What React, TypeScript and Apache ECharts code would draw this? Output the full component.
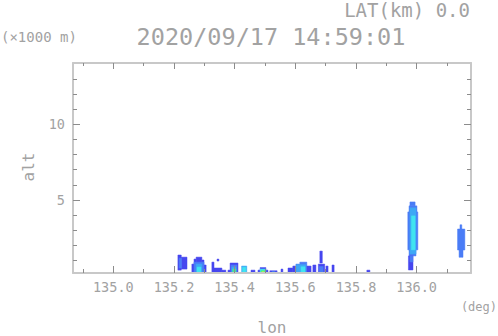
import React, { useEffect, useRef } from "react";
import * as echarts from "echarts";

// Level colours (index = level - 1)
const levelColors = ["#4646ef", "#4a7cf6", "#3ea8f5", "#40e4f0", "#48f08c", "#c8f040"];

const xMajorTicks = [135.0, 135.2, 135.4, 135.6, 135.8, 136.0];
const xMinorTicks = [134.9, 135.1, 135.3, 135.5, 135.7, 135.9, 136.1];
const yMajorTicks = [5, 10];
const yMinorTicks = [1, 2, 3, 4, 6, 7, 8, 9, 11, 12, 13];

const lonRange = [134.8671, 136.1793];
const altRange = [0.17, 14.06];

// echo cells: [lonStart, lonEnd, altBottom(km), altTop(km), level]
const echoCells: number[][] = [
  // cell near 135.22
  [135.213, 135.224, 0.36, 1.36, 1],
  [135.224, 135.243, 0.43, 1.22, 1],
  [135.217, 135.225, 0.5, 1.15, 2],
  // cell near 135.28
  [135.259, 135.266, 0.17, 0.76, 1],
  [135.266, 135.273, 0.17, 1.09, 1],
  [135.273, 135.292, 0.17, 1.22, 1],
  [135.292, 135.299, 0.17, 1.03, 1],
  [135.299, 135.306, 0.17, 0.7, 1],
  [135.266, 135.299, 0.17, 0.89, 2],
  [135.273, 135.292, 0.17, 0.76, 3],
  [135.276, 135.289, 0.17, 0.56, 4],
  [135.342, 135.348, 0.96, 1.09, 1],
  // cells near 135.35
  [135.325, 135.332, 0.17, 0.89, 1],
  [135.332, 135.358, 0.17, 0.5, 1],
  [135.358, 135.371, 0.17, 0.36, 1],
  // cell near 135.40
  [135.378, 135.385, 0.17, 0.36, 1],
  [135.385, 135.411, 0.17, 0.83, 1],
  [135.388, 135.408, 0.17, 0.7, 2],
  [135.391, 135.404, 0.17, 0.56, 3],
  [135.394, 135.404, 0.17, 0.43, 5],
  // cell near 135.43
  [135.423, 135.44, 0.17, 0.63, 3],
  [135.426, 135.437, 0.17, 0.55, 4],
  [135.454, 135.467, 0.17, 0.36, 1],
  // cell near 135.49
  [135.477, 135.484, 0.17, 0.36, 1],
  [135.484, 135.503, 0.17, 0.53, 1],
  [135.503, 135.51, 0.17, 0.36, 1],
  [135.484, 135.503, 0.17, 0.43, 4],
  [135.487, 135.5, 0.17, 0.33, 5],
  [135.49, 135.497, 0.17, 0.26, 6],
  // cell near 135.53
  [135.516, 135.54, 0.17, 0.32, 1],
  [135.523, 135.533, 0.17, 0.25, 3],
  [135.553, 135.559, 0.17, 0.43, 1],
  // cell near 135.61
  [135.576, 135.592, 0.17, 0.5, 1],
  [135.592, 135.602, 0.17, 0.63, 1],
  [135.602, 135.615, 0.17, 0.76, 2],
  [135.615, 135.638, 0.17, 0.89, 2],
  [135.638, 135.652, 0.17, 0.63, 1],
  [135.604, 135.635, 0.17, 0.72, 3],
  [135.619, 135.632, 0.17, 0.58, 4],
  [135.658, 135.668, 0.17, 0.7, 1],
  // spike near 135.68
  [135.681, 135.689, 0.83, 1.62, 1],
  [135.676, 135.697, 0.17, 0.76, 1],
  [135.679, 135.692, 0.17, 0.6, 2],
  [135.701, 135.708, 0.17, 0.63, 1],
  [135.721, 135.728, 0.17, 0.7, 1],
  [135.836, 135.846, 0.17, 0.36, 1],
  // tall cell near 135.99
  [135.978, 135.995, 4.61, 4.87, 2],
  [135.975, 136.001, 4.21, 4.61, 2],
  [135.971, 136.004, 1.7, 4.21, 2],
  [135.975, 135.998, 1.3, 1.7, 2],
  [135.973, 135.988, 0.37, 1.3, 1],
  [135.978, 135.988, 0.9, 1.3, 2],
  [135.978, 135.998, 1.43, 4.48, 3],
  [135.983, 135.995, 1.7, 3.95, 4],
  // cell near 136.15
  [136.143, 136.149, 3.08, 3.36, 2],
  [136.135, 136.159, 1.69, 3.08, 2],
  [136.14, 136.153, 1.21, 1.69, 2],
];

const FONT = "DejaVu Sans Mono";
const TEXT = "#a2a2a2";
const LINE = "#c8c8c8";
const TICK = "#8c8c8c";

function makeX(position: string, ticks: number[], len: number, showLine: boolean, labels: boolean) {
  return {
    type: "value",
    position,
    min: lonRange[0],
    max: lonRange[1],
    z: 5,
    axisLine: { show: showLine, onZero: false, lineStyle: { color: LINE, width: 2 } },
    axisTick: { show: true, inside: true, length: len, customValues: ticks, lineStyle: { color: TICK, width: 1 } },
    axisLabel: labels
      ? { show: true, customValues: ticks, formatter: (v: number) => v.toFixed(1), color: TEXT, fontSize: 13.5, fontFamily: FONT, margin: 7 }
      : { show: false },
    splitLine: { show: false },
  };
}
function makeY(position: string, ticks: number[], len: number, showLine: boolean, labels: boolean) {
  return {
    type: "value",
    position,
    min: altRange[0],
    max: altRange[1],
    z: 5,
    axisLine: { show: showLine, onZero: false, lineStyle: { color: LINE, width: 2 } },
    axisTick: { show: true, inside: true, length: len, customValues: ticks, lineStyle: { color: TICK, width: 1 } },
    axisLabel: labels
      ? { show: true, customValues: ticks, formatter: (v: number) => String(v), color: TEXT, fontSize: 13.5, fontFamily: FONT, margin: 8 }
      : { show: false },
    splitLine: { show: false },
  };
}

export default function App() {
  const ref = useRef<HTMLDivElement>(null);
  useEffect(() => {
    if (!ref.current) return;
    const chart = echarts.init(ref.current, null, { renderer: "svg" });
    chart.setOption({
      animation: false,
      backgroundColor: "#ffffff",
      grid: { left: 73, right: 27, top: 63, bottom: 63 },
      xAxis: [
        makeX("bottom", xMajorTicks, 7, true, true),
        makeX("bottom", xMinorTicks, 4, false, false),
        makeX("top", xMajorTicks, 6, true, false),
        makeX("top", xMinorTicks, 3, false, false),
      ],
      yAxis: [
        makeY("left", yMajorTicks, 7, true, true),
        makeY("left", yMinorTicks, 4, false, false),
        makeY("right", yMajorTicks, 7, true, false),
        makeY("right", yMinorTicks, 4, false, false),
      ],
      series: [
        {
          type: "custom",
          xAxisIndex: 0,
          yAxisIndex: 0,
          data: echoCells,
          encode: { x: [0, 1], y: [2, 3] },
          renderItem: (_p: any, api: any) => {
            const a = api.coord([api.value(0), api.value(3)]);
            const b = api.coord([api.value(1), api.value(2)]);
            const c = levelColors[api.value(4) - 1];
            return {
              type: "rect",
              shape: { x: a[0], y: a[1], width: b[0] - a[0], height: b[1] - a[1] },
              style: { fill: c, stroke: c, lineWidth: 0.5 },
            };
          },
        },
      ],
      graphic: [
        { type: "text", x: 470, y: 10, style: { text: "LAT(km) 0.0", fill: TEXT, fontSize: 19, fontFamily: FONT, textAlign: "right", textVerticalAlign: "middle" } },
        { type: "text", x: 271, y: 37, style: { text: "2020/09/17 14:59:01", fill: TEXT, fontSize: 23.5, fontFamily: FONT, textAlign: "center", textVerticalAlign: "middle" } },
        { type: "text", x: 1, y: 37, style: { text: "(×1000 m)", fill: TEXT, fontSize: 14, fontFamily: FONT, textAlign: "left", textVerticalAlign: "middle" } },
        { type: "text", x: 28, y: 167, rotation: Math.PI / 2, style: { text: "alt", fill: TEXT, fontSize: 16, fontFamily: FONT, textAlign: "center", textVerticalAlign: "middle" } },
        { type: "text", x: 272, y: 327, style: { text: "lon", fill: TEXT, fontSize: 16, fontFamily: FONT, textAlign: "center", textVerticalAlign: "middle" } },
        { type: "text", x: 497, y: 307, style: { text: "(deg)", fill: TEXT, fontSize: 12, fontFamily: FONT, textAlign: "right", textVerticalAlign: "middle" } },
      ],
    });
    return () => chart.dispose();
  }, []);
  return <div ref={ref} style={{ position: "fixed", left: 0, top: 0, width: 498, height: 336 }} />;
}
